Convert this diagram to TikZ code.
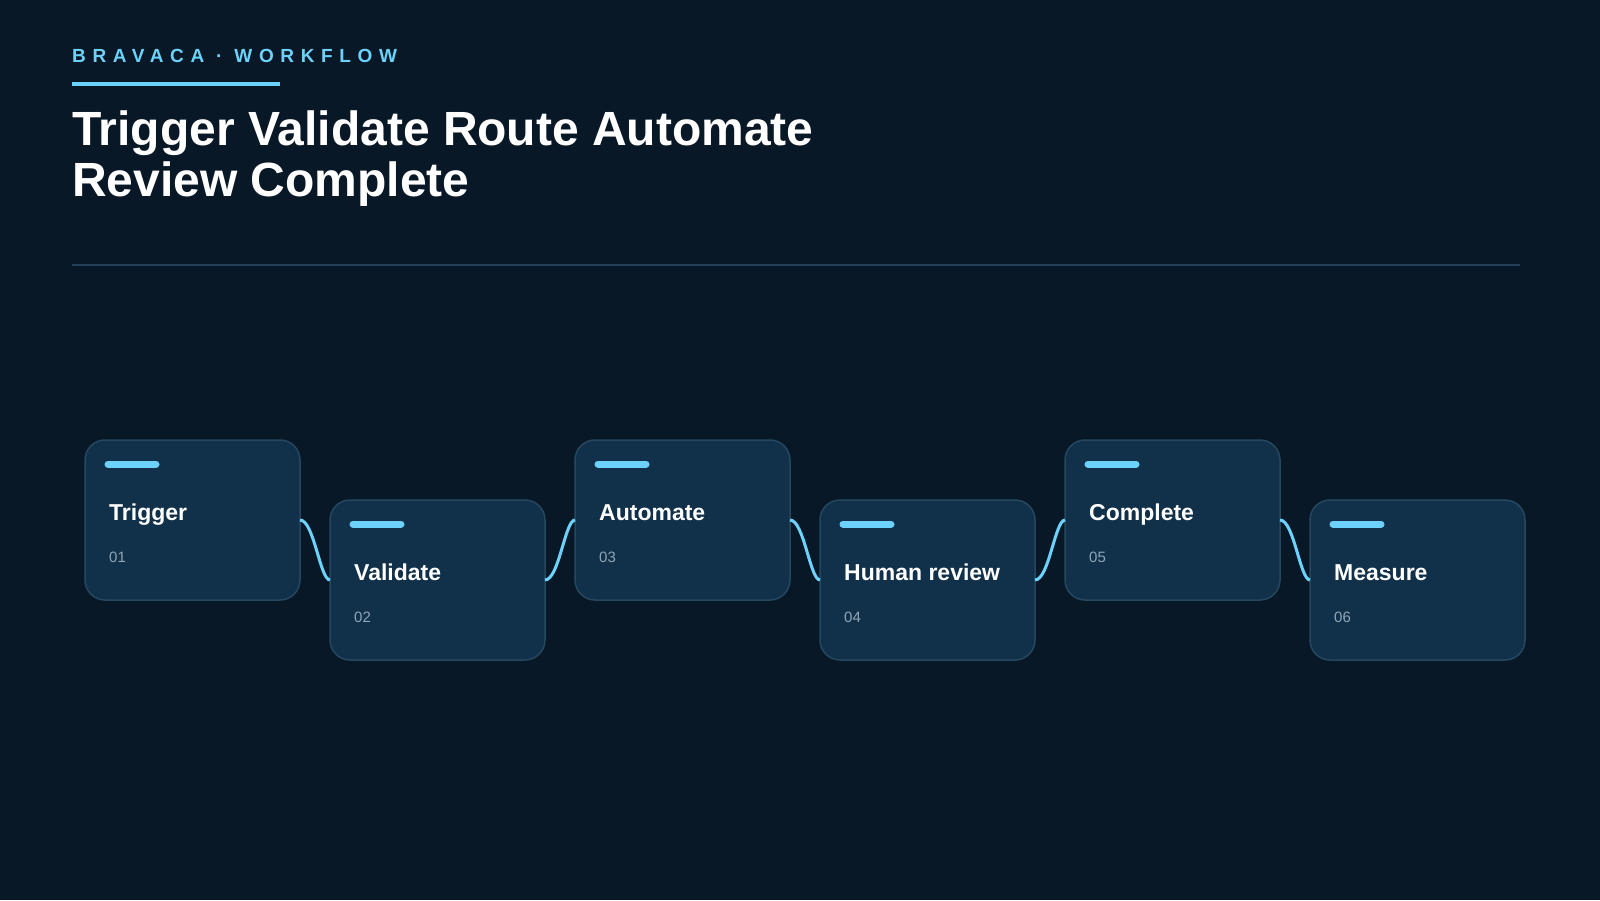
\documentclass[tikz,border=0pt]{standalone}
\usepackage{fontspec}
\usetikzlibrary{calc}
\setmainfont{Liberation Sans}
\newfontfamily\spaced[LetterSpace=35]{Liberation Sans}
\definecolor{bg}{HTML}{081826}
\definecolor{card}{HTML}{11304A}
\definecolor{cardline}{HTML}{26485F}
\definecolor{accent}{HTML}{6CD2FB}
\definecolor{rule}{HTML}{22405A}
\definecolor{num}{HTML}{8FA6B8}
\begin{document}
\begin{tikzpicture}[x=1pt,y=-1pt,
  cardbox/.style={draw=cardline,line width=1.5pt,fill=card,rounded corners=20pt},
  bar/.style={accent,line width=7pt,line cap=round},
  ttl/.style={anchor=base west,text=white,font=\fontsize{23}{26}\selectfont\bfseries,inner sep=0},
  nm/.style={anchor=base west,text=num,font=\fontsize{15}{18}\selectfont,inner sep=0},
  link/.style={accent,line width=3pt}]
\fill[bg] (0,0) rectangle (1600,900);
\useasboundingbox (0,0) rectangle (1600,900);
\node[anchor=base west,inner sep=0,text=accent,font=\fontsize{19}{22}\selectfont\bfseries\spaced] (kick) at (72,62) {BRAVACA · WORKFLOW};
\draw[accent,line width=4pt] (72,84) -- (280,84);
\node[anchor=base west,inner sep=0,text=white,font=\fontsize{48}{50}\selectfont\bfseries] (t1) at (72,145) {Trigger Validate Route Automate};
\node[anchor=base west,inner sep=0,text=white,font=\fontsize{48}{50}\selectfont\bfseries] (t2) at (72,196) {Review Complete};
\draw[rule,line width=1.5pt] (72,265) -- (1520,265);
\foreach \i/\t/\n in {0/Trigger/01,1/Validate/02,2/Automate/03,3/Human review/04,4/Complete/05,5/Measure/06}{
  \pgfmathsetmacro{\xx}{85+245*\i}
  \pgfmathsetmacro{\yy}{mod(\i,2)==0 ? 440 : 500}
  \draw[cardbox] (\xx,\yy) rectangle ++(215,160);
  \coordinate (L\i) at (\xx,\yy+80);
  \coordinate (R\i) at (\xx+215,\yy+80);
  \draw[bar] (\xx+23,\yy+24) -- ++(48,0);
  \node[ttl] (c\i) at (\xx+24,\yy+80) {\t};
  \node[nm] (n\i) at (\xx+24,\yy+122) {\n};
}
\foreach \a/\b in {0/1,1/2,2/3,3/4,4/5}{
  \draw[link] (R\a) .. controls ($(R\a)+(14,0)$) and ($(L\b)+(-10,0)$) .. (L\b);
}
\end{tikzpicture}
\end{document}
